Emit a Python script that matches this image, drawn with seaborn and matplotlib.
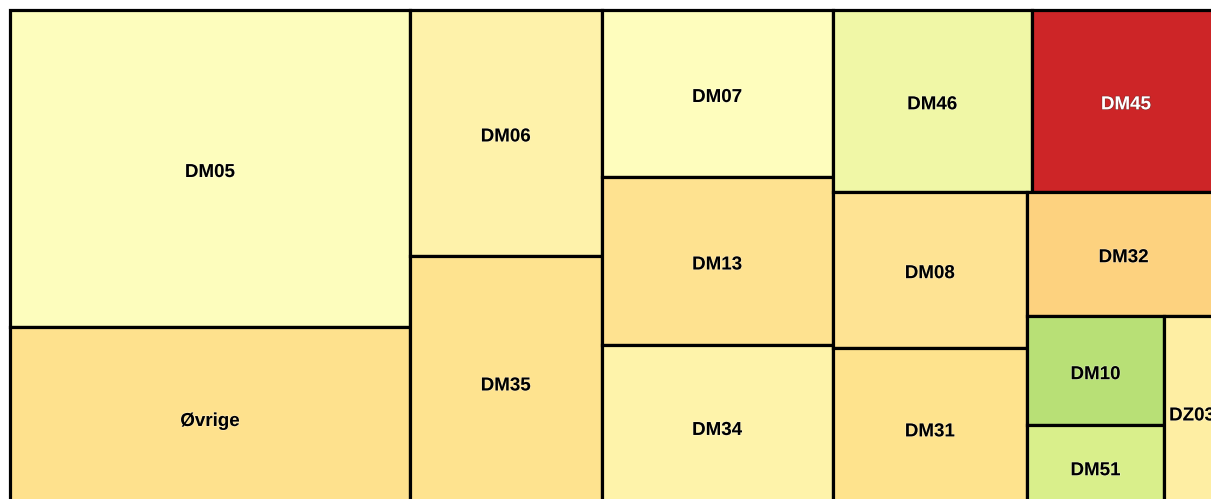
import matplotlib
matplotlib.use("Agg")
import matplotlib.pyplot as plt
import matplotlib.patheffects as pe
from matplotlib.patches import Rectangle
import seaborn as sns

# treemap data (order as in the chart)
labels = ["DM05", "Øvrige", "DM06", "DM35", "DM07", "DM13", "DM34", "DM46",
          "DM45", "DM08", "DM31", "DM32", "DM10", "DM51", "DZ03"]
values = [1268, 724, 472, 484, 386, 388, 377, 362,
          342, 304, 312, 240, 150, 113, 108]

# cell colours (colour axis of the original)
cell_colors = ["#fdfdbd", "#fee18d", "#fef2aa", "#fee38f", "#fefdbd", "#fee290",
               "#fef3aa", "#f0f7a6", "#cd2527", "#fee393", "#fee38d", "#fdd27f",
               "#b8e076", "#d9ef8b", "#feeea3"]
text_colors = ["white" if lab == "DM45" else "black" for lab in labels]


def aspect(a, s, w, h):
    # aspect ratio of an element of area a in a strip of total area s
    side = s / h if w >= h else s / w
    other = a / side
    return max(side / other, other / side)


def place_strip(strip, x, y, w, h, out):
    s = sum(strip)
    if w >= h:
        cw = s / h
        yy = y
        for a in strip:
            out.append((x, yy, cw, a / cw))
            yy += a / cw
        return x + cw, y, w - cw, h
    rh = s / w
    xx = x
    for a in strip:
        out.append((xx, y, a / rh, rh))
        xx += a / rh
    return x, y + rh, w, h - rh


def squarified(vals, W, H):
    total = sum(vals)
    areas = [v / total * W * H for v in vals]
    rects = []
    x, y, w, h = 0.0, 0.0, W, H
    strip = []
    for a in areas:
        if strip:
            s = sum(strip)
            if aspect(strip[-1], s + a, w, h) > aspect(strip[-1], s, w, h):
                x, y, w, h = place_strip(strip, x, y, w, h, rects)
                strip = []
        strip.append(a)
    place_strip(strip, x, y, w, h, rects)
    return rects


sns.set_theme(style="white")
plt.rcParams["font.family"] = ["Liberation Sans", "DejaVu Sans"]

W, H = 1210, 498
fig = plt.figure(figsize=(12.11, 4.99), dpi=100)
fig.patch.set_facecolor("white")
ax = fig.add_axes([10 / 1211, -9 / 499, W / 1211, H / 499])
ax.set_xlim(0, W)
ax.set_ylim(H, 0)
ax.axis("off")

for (x, y, w, h), lab, col, tc in zip(squarified(values, W, H), labels,
                                      cell_colors, text_colors):
    ax.add_patch(Rectangle((x, y), w, h, facecolor=col, edgecolor="black",
                           linewidth=2.3, joinstyle="miter", clip_on=False))
    outline = "#333333" if tc == "white" else "white"
    ax.text(x + w / 2, y + h / 2 + 4, lab, ha="center", va="center",
            fontsize=13.5, fontweight="bold", color=tc, clip_on=False,
            path_effects=[pe.withStroke(linewidth=1.0, foreground=outline,
                                        alpha=0.4)])

fig.savefig("out.png", dpi=100)
